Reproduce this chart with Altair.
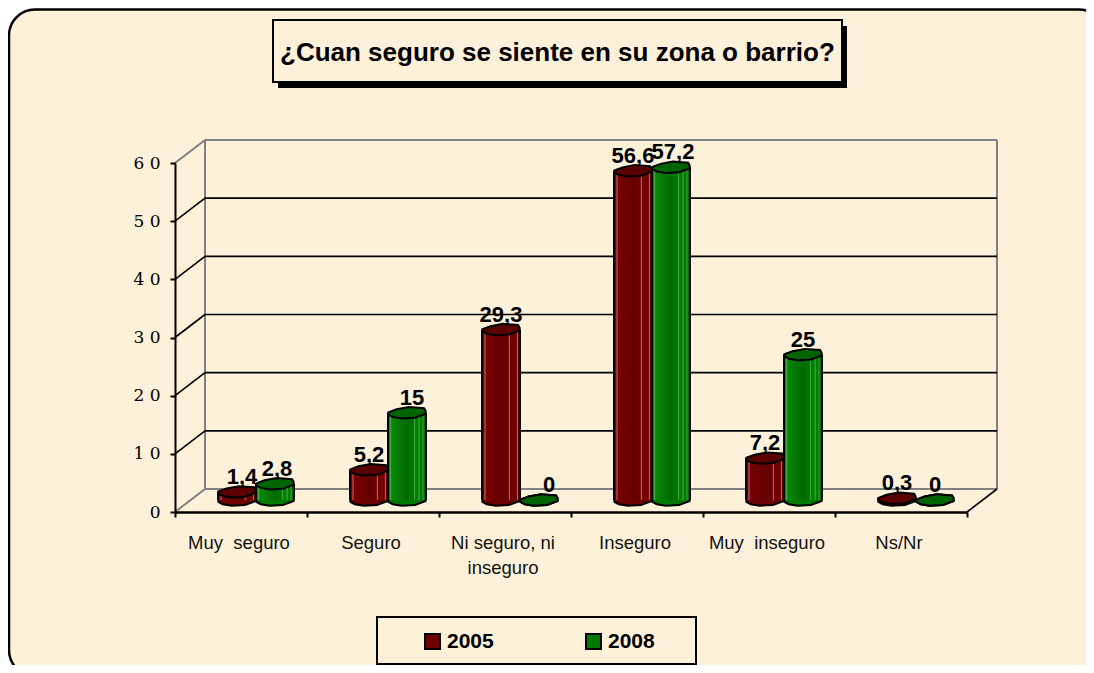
import altair as alt
import pandas as pd

categorias = ["Muy\u00a0 seguro", "Seguro", "Ni seguro, ni\ninseguro", "Inseguro", "Muy\u00a0 inseguro", "Ns/Nr"]
serie_2005 = [1.4, 5.2, 29.3, 56.6, 7.2, 0.3]
serie_2008 = [2.8, 15, 0, 57.2, 25, 0]
nudge_2005 = [5, 0, 0, 0, 0, 0]
nudge_2008 = [2, 5, 10, 2, 0, 0]
ticks_y = [0, 10, 20, 30, 40, 50, 60]
titulo = "¿Cuan seguro se siente en su zona o barrio?"

W, H = 792, 349
PX, PY = W / 6, H / 60          # pixels per x unit / per value unit
DX, DY = 30 / PX, 23 / PY       # wall depth
BASE = 12 / PY                  # bars stand in the middle of the floor
BW = 38 / PX
SHIFT = 15 / PX
COL = {"2005": "#6e0000", "2008": "#007a00"}
TOP = {"2005": "#5a0000", "2008": "#006400"}

x_s = alt.Scale(domain=[0, 6], nice=False, zero=False)
y_s = alt.Scale(domain=[0, 60], nice=False, zero=False)
AX = alt.Axis(values=list(range(7)), labels=False, domainColor="black", domainWidth=2.5, tickColor="black",
              tickWidth=2, tickSize=5, grid=False, title=None, zindex=1)
AY = alt.Axis(values=ticks_y, domainColor="black", domainWidth=2, tickColor="black", tickWidth=2, tickSize=5,
              grid=False, labelFont="DejaVu Serif", labelFontSize=17, labelColor="black", labelPadding=10,
              title=None, zindex=1, labelExpr="datum.value > 0 ? floor(datum.value / 10) + ' 0' : '0'")


def X(f):
    return alt.X(f"{f}:Q", scale=x_s, axis=AX)


def Y(f):
    return alt.Y(f"{f}:Q", scale=y_s, axis=AY)


rows = []
for i, c in enumerate(categorias):
    m = i + 0.5 + SHIFT
    for s, v, n, l in (("2005", serie_2005[i], nudge_2005[i], m - BW), ("2008", serie_2008[i], nudge_2008[i], m)):
        rows.append(dict(cat=c, serie=s, valor=v, izq=l, der=l + BW, cen=l + BW / 2, cen_lab=l + BW / 2 + n / PX,
                         tope=v + BASE, base=BASE, txt=str(v).replace(".", ",")))
bars = pd.DataFrame(rows)
cats = pd.DataFrame(dict(cat=categorias, pos=[i + 0.5 for i in range(6)], y0=[0] * 6))

black_lines, grey_lines = [], []
for v in ticks_y[1:-1]:
    black_lines.append(dict(x=DX, x2=6 + DX, y=v + DY, y2=v + DY))
    black_lines.append(dict(x=0, x2=DX, y=v, y2=v + DY))
black_lines.append(dict(x=6, x2=6 + DX, y=0, y2=DY))
grey_lines.append(dict(x=DX, x2=6 + DX, y=60 + DY, y2=60 + DY))
grey_lines.append(dict(x=DX, x2=6 + DX, y=DY, y2=DY))
grey_lines.append(dict(x=DX, x2=DX, y=DY, y2=60 + DY))
grey_lines.append(dict(x=6 + DX, x2=6 + DX, y=DY, y2=60 + DY))
grey_lines.append(dict(x=0, x2=DX, y=0, y2=DY))
grey_lines.append(dict(x=0, x2=DX, y=60, y2=60 + DY))

one = pd.DataFrame({"a": [0]})
panel = alt.Chart(one).mark_rect(fill="#fdf1d9", stroke="black", strokeWidth=2.5, cornerRadius=26).encode(
    x=alt.value(-166), x2=alt.value(930), y=alt.value(-153.5), y2=alt.value(513))

shadow = alt.Chart(one).mark_rect(fill="black").encode(
    x=alt.value(103), x2=alt.value(672), y=alt.value(-137), y2=alt.value(-75))
title_box = alt.Chart(one).mark_rect(fill="#fdf1d9", stroke="black", strokeWidth=2).encode(
    x=alt.value(98), x2=alt.value(667), y=alt.value(-143), y2=alt.value(-81))
legend_box = alt.Chart(one).mark_rect(fill="#fdf1d9", stroke="black", strokeWidth=2).encode(
    x=alt.value(202), x2=alt.value(521), y=alt.value(454), y2=alt.value(501))
title_text = alt.Chart(pd.DataFrame({"t": [titulo]})).mark_text(
    font="Liberation Sans", fontSize=26, fontWeight="bold", color="black", align="left", baseline="middle").encode(
    x=alt.value(105), y=alt.value(-110), text="t:N")


def lines(data, color, width):
    return alt.Chart(pd.DataFrame(data)).mark_rule(color=color, strokeWidth=width).encode(
        x=X("x"), x2="x2:Q", y=Y("y"), y2="y2:Q")


cap_path = ("M-0.98,-0.02L-0.55,-0.18L0.1,-0.3L0.9,-0.24L0.98,-0.1L0.98,0.05L0.42,0.26"
            "L-0.28,0.3L-0.75,0.22L-0.98,0.1Z")

base_cap = alt.Chart(bars).mark_point(shape=cap_path, size=1444, filled=True, stroke="black", strokeWidth=2, opacity=1).encode(
    x=X("cen"), y=Y("base"),
    fill=alt.Fill("serie:N", scale=alt.Scale(domain=list(COL), range=list(COL.values())), legend=None))

body = alt.Chart(bars).mark_rect().encode(
    x=X("izq"), x2="der:Q", y=Y("base"), y2="tope:Q",
    color=alt.Color("serie:N", scale=alt.Scale(domain=list(COL), range=list(COL.values())),
                    legend=alt.Legend(orient="none", legendX=247, legendY=468, direction="horizontal", title=None,
                                      symbolType="square", symbolSize=225, symbolStrokeColor="black",
                                      symbolStrokeWidth=2, symbolOpacity=1, labelFont="Liberation Sans",
                                      labelFontSize=21, labelFontWeight="bold", labelColor="black",
                                      labelOffset=4, columnPadding=88, padding=0)))

shades = []
for s, st in (("2005", [("#7c0000", 0), ("#640000", 0.55), ("#760000", 0.8), ("#5e0000", 1)]),
              ("2008", [("#0c8f0c", 0), ("#006a00", 0.5), ("#048004", 0.8), ("#006800", 1)])):
    shades.append(alt.Chart(bars[bars.serie == s]).mark_rect(
        fill={"gradient": "linear", "x1": 0, "x2": 1, "y1": 0, "y2": 0,
              "stops": [{"color": c, "offset": o} for c, o in st]}).encode(
        x=X("izq"), x2="der:Q", y=Y("base"), y2="tope:Q"))

edge_layers = []
for fld in ("izq", "der"):
    edge_layers.append(alt.Chart(bars).mark_rule(color="black", strokeWidth=2).encode(
        x=X(fld), y=Y("base"), y2="tope:Q"))

hl = []
for s, fracs, col, op in (("2005", (0.08, 0.72, 0.93), "#ffb0b0", 0.6),
                          ("2008", (0.07, 0.7, 0.82, 0.92), "#7fe07f", 0.5)):
    for frac in fracs:
        h = bars[bars.serie == s].assign(xh=lambda d: d.izq + frac * BW)
        hl.append(alt.Chart(h).mark_rule(color=col, strokeWidth=1, opacity=op).encode(
            x=X("xh"), y=Y("base"), y2="tope:Q"))

top_cap = alt.Chart(bars).mark_point(shape=cap_path, size=1444, filled=True, stroke="black", strokeWidth=2, opacity=1).encode(
    x=X("cen"), y=Y("tope"),
    fill=alt.Fill("serie:N", scale=alt.Scale(domain=list(TOP), range=list(TOP.values())), legend=None))

val_labels = alt.Chart(bars).mark_text(font="Liberation Sans", fontSize=22, fontWeight="bold", color="black",
                                       baseline="alphabetic", dy=-8).encode(
    x=X("cen_lab"), y=Y("tope"), text="txt:N")

cat_labels = alt.Chart(cats).mark_text(font="Liberation Sans", fontSize=18.5, color="#111111", lineBreak="\n",
                                       lineHeight=25, baseline="alphabetic", dy=37, dx=-2).encode(
    x=X("pos"), y=Y("y0"), text="cat:N")

chart = alt.layer(
    panel, shadow, title_box, title_text, legend_box,
    lines(grey_lines, "#808080", 2), lines(black_lines, "black", 1.6),
    base_cap, body, *shades, *edge_layers, *hl, top_cap, val_labels, cat_labels
).resolve_scale(fill="independent").properties(
    width=W, height=H, background="white",
    padding={"left": 167, "top": 155, "right": 119, "bottom": 153},
    autosize=alt.AutoSizeParams(type="none"),
).configure_view(stroke=None)

chart.save("out.html", embed_options={"renderer": "svg", "actions": False})
